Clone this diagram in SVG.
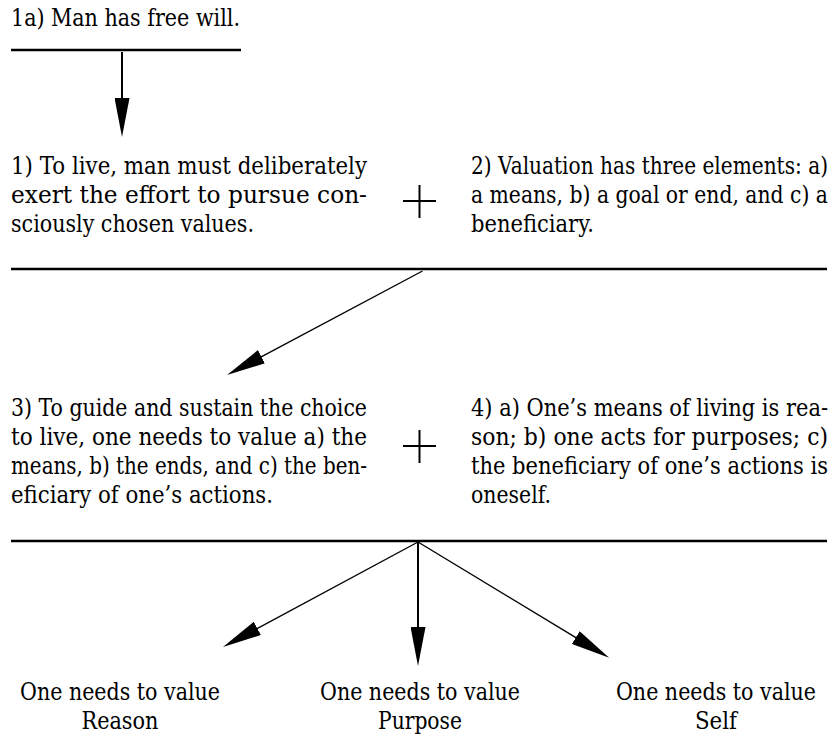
<svg xmlns="http://www.w3.org/2000/svg" width="834" height="742" viewBox="0 0 834 742">
<style>
text{font-family:'DejaVu Serif',serif;font-size:20.5px;fill:#000}
.c{text-anchor:middle}
.rule{stroke:#000;stroke-width:2.5;fill:none}
.plus{stroke:#000;stroke-width:2;fill:none}
.ar{stroke:#000;stroke-width:1.4;fill:none;marker-end:url(#ah)}
.av{stroke:#000;stroke-width:2;fill:none;marker-end:url(#ah)}
</style>
<defs>
<marker id="ah" markerUnits="userSpaceOnUse" viewBox="0 0 39 15" refX="4" refY="7.5" markerWidth="39" markerHeight="15" orient="auto">
<path d="M0,0 L39,7.5 L0,15 Z" fill="#000"/>
</marker>
</defs>
<rect width="834" height="742" fill="#fff"/>
<g id="n1a" transform="scale(1,1.15)">
<text x="11" y="22.61" textLength="229" lengthAdjust="spacingAndGlyphs">1a) Man has free will.</text>
</g>
<g id="n1" transform="scale(1,1.15)">
<text x="11" y="151.30" textLength="356" lengthAdjust="spacingAndGlyphs">1) To live, man must deliberately</text>
<text x="11" y="176.52" textLength="356" lengthAdjust="spacingAndGlyphs">exert the effort to pursue con-</text>
<text x="11" y="201.74" textLength="243" lengthAdjust="spacingAndGlyphs">sciously chosen values.</text>
</g>
<g id="n2" transform="scale(1,1.15)">
<text x="471" y="151.30" textLength="357" lengthAdjust="spacingAndGlyphs">2) Valuation has three elements: a)</text>
<text x="471" y="176.52" textLength="357" lengthAdjust="spacingAndGlyphs">a means, b) a goal or end, and c) a</text>
<text x="471" y="201.74" textLength="123" lengthAdjust="spacingAndGlyphs">beneficiary.</text>
</g>
<g id="n3" transform="scale(1,1.15)">
<text x="11" y="361.74" textLength="356" lengthAdjust="spacingAndGlyphs">3) To guide and sustain the choice</text>
<text x="11" y="386.96" textLength="356" lengthAdjust="spacingAndGlyphs">to live, one needs to value a) the</text>
<text x="11" y="412.17" textLength="356" lengthAdjust="spacingAndGlyphs">means, b) the ends, and c) the ben-</text>
<text x="11" y="437.39" textLength="262" lengthAdjust="spacingAndGlyphs">eficiary of one’s actions.</text>
</g>
<g id="n4" transform="scale(1,1.15)">
<text x="471" y="361.74" textLength="357" lengthAdjust="spacingAndGlyphs">4) a) One’s means of living is rea-</text>
<text x="471" y="386.96" textLength="357" lengthAdjust="spacingAndGlyphs">son; b) one acts for purposes; c)</text>
<text x="471" y="412.17" textLength="357" lengthAdjust="spacingAndGlyphs">the beneficiary of one’s actions is</text>
<text x="471" y="437.39" textLength="80" lengthAdjust="spacingAndGlyphs">oneself.</text>
</g>
<g id="nReason" transform="scale(1,1.15)">
<text class="c" x="120" y="608.70" textLength="200" lengthAdjust="spacingAndGlyphs">One needs to value</text>
<text class="c" x="120" y="633.91" textLength="77" lengthAdjust="spacingAndGlyphs">Reason</text>
</g>
<g id="nPurpose" transform="scale(1,1.15)">
<text class="c" x="420" y="608.70" textLength="200" lengthAdjust="spacingAndGlyphs">One needs to value</text>
<text class="c" x="420" y="633.91" textLength="84" lengthAdjust="spacingAndGlyphs">Purpose</text>
</g>
<g id="nSelf" transform="scale(1,1.15)">
<text class="c" x="716" y="608.70" textLength="200" lengthAdjust="spacingAndGlyphs">One needs to value</text>
<text class="c" x="716" y="633.91" textLength="42" lengthAdjust="spacingAndGlyphs">Self</text>
</g>
<g id="connectors">
<line class="rule" x1="11" y1="50" x2="241" y2="50"/>
<line class="av" x1="122" y1="52" x2="122" y2="102"/>
<path class="plus" d="M403,201 H436 M419.5,185 V218"/>
<line class="rule" x1="11" y1="269" x2="827" y2="269"/>
<line class="ar" x1="422.5" y1="271" x2="257.9" y2="358.6"/>
<path class="plus" d="M403,446 H436 M419.5,430 V463"/>
<line class="rule" x1="11" y1="541" x2="827" y2="541"/>
<line class="ar" x1="418" y1="542" x2="253.8" y2="630.3"/>
<line class="av" x1="418" y1="542" x2="418" y2="631"/>
<line class="ar" x1="418" y1="542" x2="579.2" y2="639.7"/>
</g>
</svg>
